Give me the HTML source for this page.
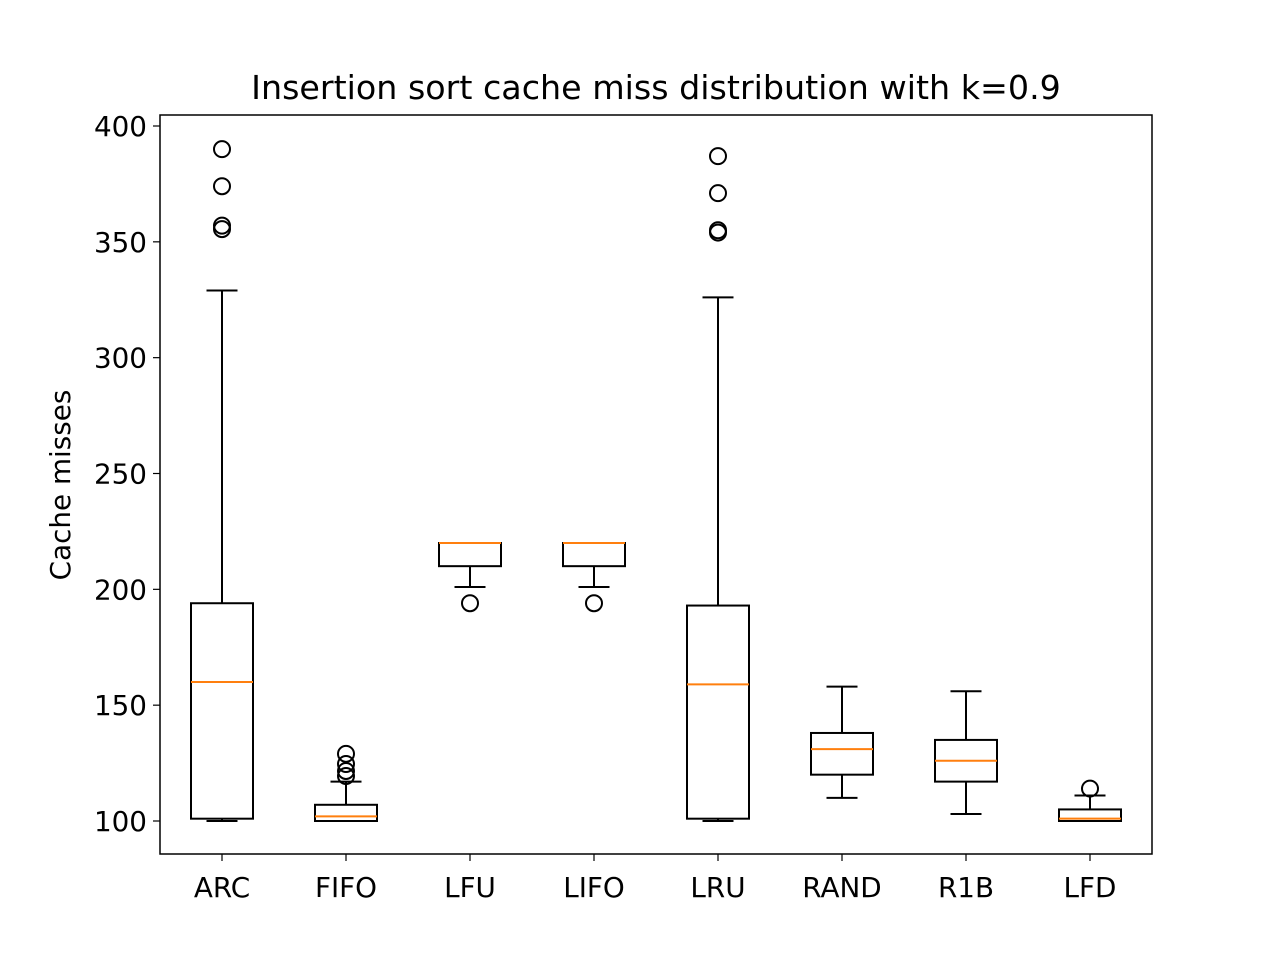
<!DOCTYPE html>
<html><head><meta charset="utf-8"><style>body{margin:0;background:#fff}svg{display:block}text{font-family:"DejaVu Sans","Liberation Sans",sans-serif;fill:#000}</style></head>
<body>
<svg id="chart" width="1280" height="960">
<rect width="1280" height="960" fill="#fff"/>
<text x="656" y="99" font-size="33.3" text-anchor="middle">Insertion sort cache miss distribution with k=0.9</text>
<text transform="translate(70,485) rotate(-90)" font-size="27.8" text-anchor="middle">Cache misses</text>
<g id="marks"></g>
<rect x="160" y="115" width="992" height="739" fill="none" stroke="#000" stroke-width="1.5"/>
</svg>
<script>
const categories = ["ARC","FIFO","LFU","LIFO","LRU","RAND","R1B","LFD"];
const whislo = [100,100,201,201,100,110,103,100];
const q1 = [101,100,210,210,101,120,117,100];
const median = [160,102,220,220,159,131,126,101];
const q3 = [194,107,220,220,193,138,135,105];
const whishi = [329,117,220,220,326,158,156,111];
const fliers = [[355.5,357,374,390],[119.4,121.6,124.6,129],[194],[194],[354,355,371,387],[],[],[114]];
const yTicks = [100,150,200,250,300,350,400];
const NS='http://www.w3.org/2000/svg';
const svg=document.getElementById('chart'), g=document.getElementById('marks');
const y=v=>821-(v-100)*(695/300);
const x=i=>222+i*124;
function mk(t,a,p){const e=document.createElementNS(NS,t);for(const k in a)e.setAttribute(k,a[k]);(p||g).appendChild(e);return e;}
yTicks.forEach(t=>{
  const l=mk('line',{x1:153,x2:160,y1:y(t),y2:y(t),stroke:'#000','stroke-width':1.2});
  
  
  const tx=mk('text',{x:147,y:y(t)+10,'font-size':27.8,'text-anchor':'end'});
  tx.textContent=t;
  
  
});
categories.forEach((c,i)=>{
  const cx=x(i);
  const tk=mk('line',{x1:cx,x2:cx,y1:854,y2:861,stroke:'#000','stroke-width':1.2});
  
  
  const tx=mk('text',{x:cx,y:897,'font-size':27.8,'text-anchor':'middle'});
  tx.textContent=c;
  
  
  const grp=mk('g',{});
  
  
  const s={stroke:'#000','stroke-width':2,fill:'none'};
  mk('line',Object.assign({x1:cx,x2:cx,y1:y(whislo[i]),y2:y(q1[i])},s),grp);
  mk('line',Object.assign({x1:cx,x2:cx,y1:y(q3[i]),y2:y(whishi[i])},s),grp);
  mk('line',Object.assign({x1:cx-15.5,x2:cx+15.5,y1:y(whislo[i]),y2:y(whislo[i])},s),grp);
  mk('line',Object.assign({x1:cx-15.5,x2:cx+15.5,y1:y(whishi[i]),y2:y(whishi[i])},s),grp);
  mk('rect',Object.assign({x:cx-31,y:y(q3[i]),width:62,height:Math.max(0,y(q1[i])-y(q3[i]))},s),grp);
  mk('line',{x1:cx-31,x2:cx+31,y1:y(median[i]),y2:y(median[i]),stroke:'#ff7f0e','stroke-width':2},grp);
  fliers[i].forEach(f=>{
    const c2=mk('circle',{cx:cx,cy:y(f),r:8,fill:'none',stroke:'#000','stroke-width':2},grp);
    
    
  });
});
</script>
</body></html>
